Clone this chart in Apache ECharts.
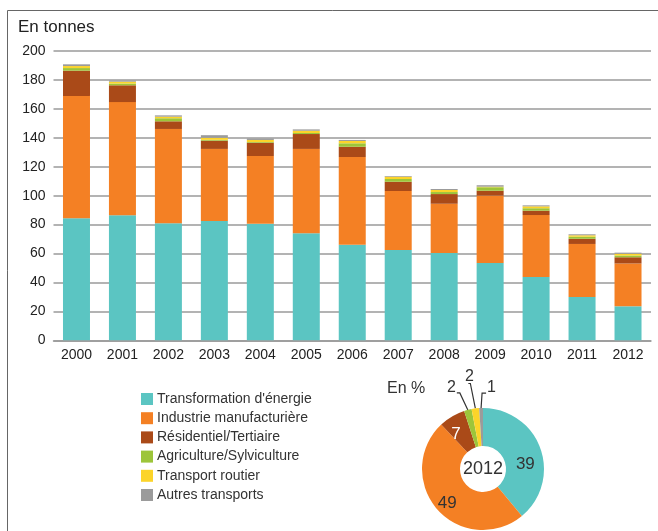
<!DOCTYPE html>
<html>
<head>
<meta charset="utf-8">
<script src="https://cdn.jsdelivr.net/npm/echarts@6/dist/echarts.min.js"></script>
<style>
  html, body { margin: 0; padding: 0; background: #fff; }
  #chart { width: 658px; height: 531px; }
</style>
</head>
<body>
<div id="chart"></div>
<script>
// Emissions by sector, in tonnes, 2000-2012
const years = ['2000', '2001', '2002', '2003', '2004', '2005', '2006', '2007', '2008', '2009', '2010', '2011', '2012'];
const sectorNames = ["Transformation d'énergie", 'Industrie manufacturière', 'Résidentiel/Tertiaire',
  'Agriculture/Sylviculture', 'Transport routier', 'Autres transports'];
const sectorColors = ['#5bc5c2', '#f48024', '#aa4a18', '#9dc53a', '#fcd42a', '#9b9b9b'];

const transformation = [84.3, 86.4, 80.9, 82.5, 80.5, 74.0, 66.0, 62.5, 60.3, 53.4, 43.8, 29.9, 23.5];
const industrie      = [84.6, 78.3, 65.2, 49.8, 46.9, 58.3, 60.7, 40.7, 34.1, 46.6, 42.8, 36.7, 29.6];
const residentiel    = [17.5, 11.6, 5.3, 5.7, 9.2, 10.3, 7.1, 6.4, 6.7, 3.4, 3.0, 3.6, 4.3];
const agriculture    = [1.8, 1.2, 2.1, 0.6, 0.5, 0.7, 2.4, 1.9, 1.4, 2.4, 1.7, 1.4, 1.2];
const routier        = [1.4, 1.3, 1.1, 1.4, 1.4, 1.6, 1.6, 1.6, 1.4, 0.4, 1.3, 1.0, 1.2];
const autres         = [1.2, 0.8, 0.9, 1.8, 1.0, 0.9, 0.7, 0.5, 0.7, 1.0, 0.7, 0.7, 0.8];

// Share of each sector in 2012, in percent
const share2012 = [39, 49, 7, 2, 2, 1];

const yTicks = { min: 0, max: 200, interval: 20 };

const seriesValues = [transformation, industrie, residentiel, agriculture, routier, autres];
const FONT = '"Liberation Sans", Arial, sans-serif';
const PIE_CENTER = [483, 469];

// Label nudges inside the ring, and leader-line shapes for the three thin slices
const ringLabelShift = {
  0: { dx: 0, dy: 11 },
  1: { dx: -2, dy: 5 },
  2: { dx: -4, dy: 4 }
};
const thinSliceLines = {
  3: { lean: -8, rise: 17, run: -3, dx: -1, dy: -5, align: 'right' },
  4: { lean: -5, rise: 25, run: -2, dx: 1, dy: -7, align: 'center' },
  5: { lean: 1, rise: 15, run: 4, dx: 1, dy: -5, align: 'left' }
};

const barSeries = seriesValues.map((vals, i) => ({
  name: sectorNames[i],
  type: 'bar',
  stack: 'total',
  barWidth: 27,
  itemStyle: { color: sectorColors[i] },
  emphasis: { disabled: true },
  data: vals
}));

const pieSeries = {
  type: 'pie',
  center: PIE_CENTER,
  radius: [23, 61],
  startAngle: 90,
  clockwise: true,
  silent: true,
  avoidLabelOverlap: false,
  emphasis: { disabled: true },
  data: share2012.map((v, i) => {
    const thin = i >= 3;
    return {
      name: sectorNames[i],
      value: v,
      itemStyle: { color: sectorColors[i] },
      label: thin
        ? { show: true, position: 'outside', color: '#333', fontSize: 16, fontFamily: FONT, formatter: '{c}' }
        : { show: true, position: 'inside', color: i === 2 ? '#fff' : '#333', fontSize: 17, fontFamily: FONT, formatter: '{c}' },
      labelLine: thin
        ? { show: true, length: 10, length2: 4, lineStyle: { color: '#333', width: 1.2 } }
        : { show: false }
    };
  }),
  labelLayout: function (p) {
    const nudge = ringLabelShift[p.dataIndex];
    if (nudge) return { dx: nudge.dx, dy: nudge.dy };
    const shape = thinSliceLines[p.dataIndex];
    if (!shape || !p.labelLinePoints) return {};
    const s = p.labelLinePoints[0];
    const bend = [s[0] + shape.lean, s[1] - shape.rise];
    const end = [bend[0] + shape.run, bend[1]];
    return {
      x: end[0] + shape.dx,
      y: end[1] + shape.dy,
      align: shape.align,
      verticalAlign: 'middle',
      labelLinePoints: [s, bend, end]
    };
  }
};

const chart = echarts.init(document.getElementById('chart'), null, { renderer: 'canvas' });
chart.setOption({
  animation: false,
  backgroundColor: '#fff',
  textStyle: { fontFamily: FONT },
  title: [
    { text: 'En tonnes', left: 18, top: 19, padding: 0, textStyle: { fontSize: 17, fontWeight: 'normal', color: '#222', fontFamily: FONT } },
    { text: 'En %', left: 387, top: 381, padding: 0, textStyle: { fontSize: 16, fontWeight: 'normal', color: '#333', fontFamily: FONT } }
  ],
  legend: {
    orient: 'vertical',
    left: 141,
    top: 392,
    padding: 0,
    itemWidth: 12,
    itemHeight: 12,
    itemGap: 5.2,
    icon: 'rect',
    selectedMode: false,
    data: sectorNames,
    textStyle: { fontSize: 14, color: '#333', fontFamily: FONT, lineHeight: 14, padding: [0, 0, 0, -1] }
  },
  grid: { left: 53.5, right: 7, top: 51, bottom: 190.7, containLabel: false },
  xAxis: {
    type: 'category',
    data: years,
    axisTick: { show: false },
    axisLine: { lineStyle: { color: '#999', width: 1.5 } },
    axisLabel: { color: '#222', fontSize: 14, margin: 8, fontFamily: FONT }
  },
  yAxis: {
    type: 'value',
    min: yTicks.min,
    max: yTicks.max,
    interval: yTicks.interval,
    axisLine: { show: false },
    axisTick: { show: false },
    splitLine: { lineStyle: { color: '#9a9a9a', width: 1.5 } },
    axisLabel: { color: '#222', fontSize: 14, margin: 8, fontFamily: FONT }
  },
  graphic: [
    { type: 'line', shape: { x1: 7.5, y1: 10.5, x2: 658, y2: 10.5 }, style: { stroke: '#666', lineWidth: 1 }, silent: true },
    { type: 'line', shape: { x1: 7.5, y1: 10.5, x2: 7.5, y2: 531 }, style: { stroke: '#666', lineWidth: 1 }, silent: true },
    { type: 'text', x: PIE_CENTER[0], y: PIE_CENTER[1], silent: true, z: 10,
      style: { text: '2012', fill: '#333', font: '18px ' + FONT, align: 'center', verticalAlign: 'middle' } }
  ],
  series: barSeries.concat([pieSeries])
});
</script>
</body>
</html>
